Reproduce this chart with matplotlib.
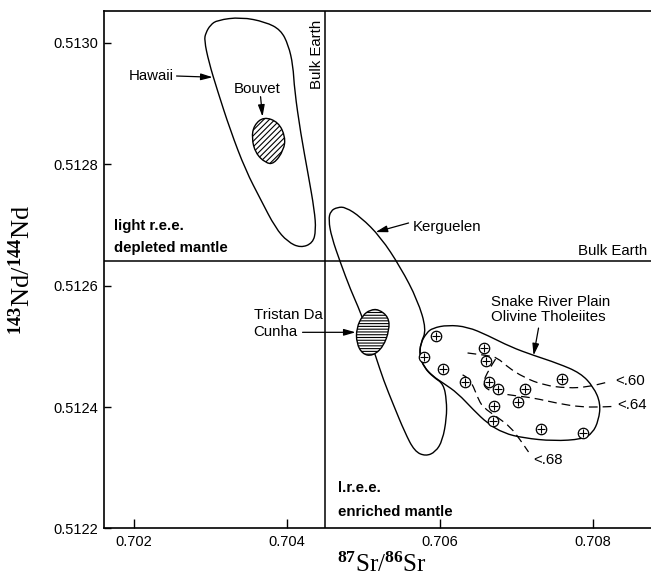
import numpy as np
import matplotlib
matplotlib.use("Agg")
import matplotlib.pyplot as plt
from matplotlib.path import Path
from matplotlib.patches import PathPatch
from matplotlib.ticker import FormatStrFormatter, FixedLocator

plt.rcParams['font.family'] = ['Liberation Sans', 'DejaVu Sans']
plt.rcParams['mathtext.fontset'] = 'custom'
plt.rcParams['mathtext.rm'] = 'Liberation Serif'
plt.rcParams['mathtext.bf'] = 'Liberation Serif:bold'
plt.rcParams['mathtext.default'] = 'regular'
plt.rcParams['hatch.linewidth'] = 0.8

# ---------------- data (87Sr/86Sr, 143Nd/144Nd) ----------------
bulk_earth_sr = 0.7045
bulk_earth_nd = 0.51264

hawaii_sr = [0.70292, 0.70294, 0.70300, 0.70309, 0.70340, 0.70372, 0.70392, 0.70402,
             0.70408, 0.70410, 0.70418, 0.70428, 0.70436, 0.70438, 0.70434, 0.70418,
             0.70401, 0.70385, 0.70366, 0.70346, 0.70326, 0.70309, 0.70298]
hawaii_nd = [0.513004, 0.513016, 0.513029, 0.513037, 0.513042, 0.513034, 0.513021, 0.512996,
             0.512963, 0.512922, 0.512851, 0.512782, 0.512724, 0.512691, 0.512670, 0.512662,
             0.512672, 0.512695, 0.512741, 0.512790, 0.512856, 0.512922, 0.512968]

bouvet_sr = [0.70370, 0.70389, 0.70398, 0.70396, 0.70383, 0.70372, 0.70359, 0.70354, 0.70357]
bouvet_nd = [0.512878, 0.512869, 0.512845, 0.512823, 0.512800, 0.512802, 0.512818, 0.512843, 0.512864]

tristan_sr = [0.70520, 0.70533, 0.70534, 0.70526, 0.70512, 0.70499, 0.70491, 0.70491, 0.70499, 0.70509]
tristan_nd = [0.512561, 0.512548, 0.512527, 0.512499, 0.512484, 0.512487, 0.512505, 0.512530, 0.512551, 0.512560]

kerguelen_sr = [0.704545, 0.704571, 0.704663, 0.704767, 0.704963, 0.705225, 0.705486, 0.705709,
                0.705826, 0.705748, 0.705735, 0.705800, 0.705918, 0.706048, 0.706088, 0.706088,
                0.706035, 0.705944, 0.705813, 0.705669, 0.705539, 0.705395, 0.705264, 0.705160,
                0.705068, 0.704963, 0.704833, 0.704702, 0.704584]
kerguelen_nd = [0.512708, 0.512723, 0.512729, 0.512729, 0.512713, 0.512680, 0.512630, 0.512576,
                0.512527, 0.512505, 0.512484, 0.512464, 0.512449, 0.512438, 0.512411, 0.512382,
                0.512345, 0.512326, 0.512319, 0.512327, 0.512359, 0.512403, 0.512444, 0.512484,
                0.512518, 0.512556, 0.512593, 0.512637, 0.512680]

snake_sr = [0.705826, 0.705905, 0.706101, 0.706362, 0.706624, 0.706924, 0.707225, 0.707539,
            0.707839, 0.708009, 0.708101, 0.708075, 0.707996, 0.707865, 0.707486, 0.707094,
            0.706833, 0.706624, 0.706441, 0.706231, 0.706048, 0.705905, 0.705787, 0.705735,
            0.705748]
snake_nd = [0.512522, 0.512530, 0.512535, 0.512532, 0.512518, 0.512499, 0.512485, 0.512472,
            0.512456, 0.512433, 0.512406, 0.512378, 0.512357, 0.512347, 0.512344, 0.512349,
            0.512357, 0.512373, 0.512395, 0.512423, 0.512439, 0.512451, 0.512467, 0.512485,
            0.512505]

srp_samples_sr = [0.705944, 0.705787, 0.706035, 0.706571, 0.706597, 0.706335, 0.706637, 0.706754,
                  0.707107, 0.707016, 0.706702, 0.706689, 0.707591, 0.707316, 0.707865]
srp_samples_nd = [0.512517, 0.512482, 0.512462, 0.512497, 0.512476, 0.512441, 0.512441, 0.512429,
                  0.512429, 0.512408, 0.512401, 0.512377, 0.512446, 0.512364, 0.512357]

c60_sr = [0.706362, 0.706624, 0.706754, 0.706884, 0.707094, 0.707355, 0.707670, 0.707931, 0.708192]
c60_nd = [0.512489, 0.512485, 0.512481, 0.512466, 0.512449, 0.512436, 0.512431, 0.512433, 0.512441]
c64_sr = [0.706728, 0.706637, 0.706558, 0.706624, 0.706754, 0.707016, 0.707225, 0.707539,
          0.707839, 0.708101, 0.708271]
c64_nd = [0.512479, 0.512461, 0.512439, 0.512428, 0.512423, 0.512418, 0.512415, 0.512406,
          0.512400, 0.512400, 0.512401]
c68_sr = [0.706297, 0.706375, 0.706441, 0.706493, 0.706558, 0.706754, 0.706924, 0.707055, 0.707159]
c68_nd = [0.512453, 0.512448, 0.512433, 0.512416, 0.512400, 0.512383, 0.512367, 0.512345, 0.512326]

x_ticks = [0.702, 0.704, 0.706, 0.708]
y_ticks = [0.5122, 0.5124, 0.5126, 0.5128, 0.5130]


def closed_path(xs, ys):
    p = np.column_stack([xs, ys])
    m = (p + np.roll(p, -1, axis=0)) / 2
    verts = [m[-1]]
    codes = [Path.MOVETO]
    for i in range(len(p)):
        verts += [p[i], m[i]]
        codes += [Path.CURVE3, Path.CURVE3]
    return Path(verts, codes)


def open_path(xs, ys):
    p = np.column_stack([xs, ys])
    verts = [p[0]]
    codes = [Path.MOVETO]
    for i in range(1, len(p) - 1):
        verts += [p[i], (p[i] + p[i + 1]) / 2]
        codes += [Path.CURVE3, Path.CURVE3]
    verts.append(p[-1])
    codes.append(Path.LINETO)
    return Path(verts, codes)


fig = plt.figure(figsize=(6.51, 5.80), dpi=100)
ax = fig.add_axes([0.1598, 0.0888, 0.8402, 0.8922])
ax.set_xlim(0.70161, 0.70876)
ax.set_ylim(0.5122, 0.513052)

lw = 1.0
# outlines
ax.add_patch(PathPatch(closed_path(hawaii_sr, hawaii_nd), fc='none', ec='black', lw=lw))
ax.add_patch(PathPatch(closed_path(kerguelen_sr, kerguelen_nd), fc='none', ec='black', lw=lw))
ax.add_patch(PathPatch(closed_path(snake_sr, snake_nd), fc='none', ec='black', lw=lw))
ax.add_patch(PathPatch(closed_path(bouvet_sr, bouvet_nd), fc='white', ec='black', lw=lw,
                       hatch='//////', zorder=3))
ax.add_patch(PathPatch(closed_path(tristan_sr, tristan_nd), fc='white', ec='black', lw=lw,
                       hatch='------', zorder=3))

# bulk earth lines
ax.axvline(bulk_earth_sr, color='black', lw=1.1)
ax.axhline(bulk_earth_nd, color='black', lw=1.1)

# dashed contours
for xs, ys in [(c60_sr, c60_nd), (c64_sr, c64_nd), (c68_sr, c68_nd)]:
    ax.add_patch(PathPatch(open_path(xs, ys), fc='none', ec='black', lw=0.9,
                           ls=(0, (7, 4)), zorder=2))

# samples (circled plus)
ax.plot(srp_samples_sr, srp_samples_nd, ls='none', marker='o', ms=7.5, mfc='white',
        mec='black', mew=0.9, zorder=4)
ax.plot(srp_samples_sr, srp_samples_nd, ls='none', marker='+', ms=5.2, mec='black',
        mew=0.8, zorder=5)

# text labels
fs = 10.8
ax.text(0.702519, 0.512945, 'Hawaii', ha='right', va='center', fontsize=fs)
ax.text(0.703617, 0.512924, 'Bouvet', ha='center', va='center', fontsize=fs)
ax.text(0.704395, 0.512980, 'Bulk Earth', ha='center', va='center', rotation=90, fontsize=10.8)
ax.text(0.701735, 0.512698, 'light r.e.e.', ha='left', va='center', fontsize=fs, fontweight='bold')
ax.text(0.701735, 0.512662, 'depleted mantle', ha='left', va='center', fontsize=fs, fontweight='bold')
ax.text(0.708715, 0.512646, 'Bulk Earth', ha='right', va='bottom', fontsize=fs)
ax.text(0.705643, 0.512696, 'Kerguelen', ha='left', va='center', fontsize=fs)
ax.text(0.703565, 0.512551, 'Tristan Da', ha='left', va='center', fontsize=fs)
ax.text(0.703565, 0.512523, 'Cunha', ha='left', va='center', fontsize=fs)
ax.text(0.706663, 0.512573, 'Snake River Plain', ha='left', va='center', fontsize=fs)
ax.text(0.706663, 0.512548, 'Olivine Tholeiites', ha='left', va='center', fontsize=fs)
ax.text(0.708296, 0.512443, '<.60', ha='left', va='center', fontsize=fs)
ax.text(0.708322, 0.512403, '<.64', ha='left', va='center', fontsize=fs)
ax.text(0.707225, 0.512313, '<.68', ha='left', va='center', fontsize=fs)
ax.text(0.704663, 0.512266, 'l.r.e.e.', ha='left', va='center', fontsize=fs, fontweight='bold')
ax.text(0.704663, 0.512227, 'enriched mantle', ha='left', va='center', fontsize=fs, fontweight='bold')

# arrows
arrow_kw = dict(arrowstyle='-|>,head_length=0.7,head_width=0.2', color='black', lw=0.9,
                shrinkA=0, shrinkB=0)
arrows = [((0.702558, 0.512945), (0.703029, 0.512943)),
          ((0.703656, 0.512911), (0.703682, 0.512878)),
          ((0.705591, 0.512703), (0.705160, 0.512688)),
          ((0.704205, 0.512523), (0.704898, 0.512523)),
          ((0.707290, 0.512530), (0.707225, 0.512485))]
for start, end in arrows:
    ax.annotate('', xy=end, xytext=start, arrowprops=arrow_kw, zorder=6)

# axes styling
ax.spines['right'].set_visible(False)
for s in ['left', 'bottom', 'top']:
    ax.spines[s].set_linewidth(1.2)
ax.xaxis.set_major_locator(FixedLocator(x_ticks))
ax.yaxis.set_major_locator(FixedLocator(y_ticks))
ax.xaxis.set_major_formatter(FormatStrFormatter('%.3f'))
ax.yaxis.set_major_formatter(FormatStrFormatter('%.4f'))
ax.tick_params(axis='x', direction='in', length=6.5, width=1, labelsize=10.5, pad=5, top=False)
ax.tick_params(axis='y', direction='in', length=5, width=1, labelsize=10.5, pad=4, right=False)

serif = ['Liberation Serif', 'DejaVu Serif']
ax.set_xlabel(r'$^{\mathbf{87}}$Sr/$^{\mathbf{86}}$Sr', fontsize=18, family=serif)
ax.xaxis.set_label_coords(0.508, -0.071)
ax.xaxis.label.set_va('center')
ax.set_ylabel(r'$^{\mathbf{143}}$Nd/$^{\mathbf{144}}$Nd', fontsize=19, family=serif)
ax.yaxis.set_label_coords(-0.150, 0.5)
ax.yaxis.label.set_va('center')

fig.savefig('out.png', dpi=100)
